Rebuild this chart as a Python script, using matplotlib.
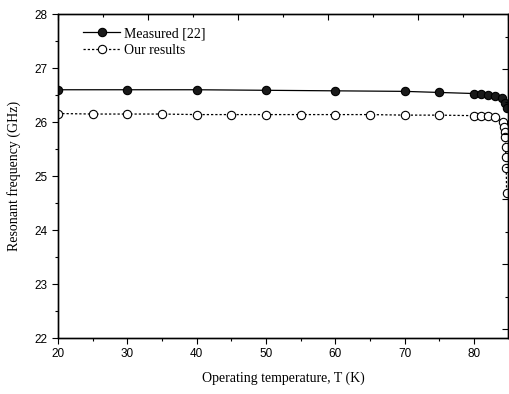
import numpy as np
import matplotlib.pyplot as plt
from matplotlib.ticker import MultipleLocator, NullFormatter

# Measured [22]
t_meas = [20, 30, 40, 50, 60, 70, 75, 80, 81, 82, 83, 84.0, 84.4, 84.7]
f_meas = [26.6, 26.6, 26.6, 26.59, 26.58, 26.57, 26.55, 26.53, 26.52, 26.50, 26.48, 26.44, 26.35, 26.26]

# Our results
t_ours = [20, 25, 30, 35, 40, 45, 50, 55, 60, 65, 70, 75, 80, 81, 82, 83,
          84.2, 84.3, 84.4, 84.5, 84.55, 84.6, 84.65, 84.7]
f_ours = [26.16, 26.15, 26.15, 26.15, 26.14, 26.14, 26.14, 26.14, 26.14, 26.14, 26.13, 26.13,
          26.12, 26.12, 26.11, 26.10, 26.0, 25.91, 25.81, 25.72, 25.54, 25.35, 25.15, 24.69]

serif = 'Liberation Serif'
sans = 'Liberation Sans'

fig = plt.figure(figsize=(5.09, 3.94), dpi=100)
ax = fig.add_axes([0.114, 0.142, 0.884, 0.822])

ax.plot(t_meas, f_meas, '-', color='black', lw=0.9, marker='o', ms=6,
        mfc='#1a1a1a', mec='black', mew=0.8, label='Measured [22]')
ax.plot(t_ours, f_ours, color='black', lw=0.9, dashes=(1.8, 1.6), marker='o', ms=6,
        mfc='white', mec='black', mew=0.8, label='Our results')

ax.set_xlim(20, 84.9)
ax.set_ylim(22, 28)
ax.xaxis.set_major_locator(MultipleLocator(10))
ax.xaxis.set_minor_locator(MultipleLocator(5))
ax.yaxis.set_major_locator(MultipleLocator(1))
ax.yaxis.set_minor_locator(MultipleLocator(0.5))
ax.tick_params(which='both', direction='out', top=False, right=False, width=0.8)
ax.tick_params(which='major', length=4, labelsize=8.5)
ax.tick_params(which='minor', length=2)
for lab in ax.get_xticklabels() + ax.get_yticklabels():
    lab.set_fontfamily(sans)

ax.set_xlabel('Operating temperature, T (K)', fontfamily=serif, fontsize=10, labelpad=8)
ax.set_ylabel('Resonant frequency (GHz)', fontfamily=serif, fontsize=10, labelpad=10)

# secondary axes carrying the top / right tick marks of the original
top = ax.twiny()
top.set_xlim(0, 5)
top.xaxis.set_major_locator(MultipleLocator(1))
top.xaxis.set_minor_locator(MultipleLocator(0.5))
top.xaxis.set_major_formatter(NullFormatter())
top.tick_params(which='both', direction='in', width=0.8)
top.tick_params(which='major', length=4)
top.tick_params(which='minor', length=2)

right = ax.twinx()
right.set_ylim(-0.14, 4.85)
right.yaxis.set_major_locator(MultipleLocator(1))
right.yaxis.set_minor_locator(MultipleLocator(0.5))
right.yaxis.set_major_formatter(NullFormatter())
right.tick_params(which='both', direction='in', width=0.8)
right.tick_params(which='major', length=4)
right.tick_params(which='minor', length=2)

for a in (ax, top, right):
    for s in a.spines.values():
        s.set_linewidth(0.9)

ax.legend(loc='upper left', frameon=False, prop={'family': serif, 'size': 10},
          handlelength=2.6, handletextpad=0.3, labelspacing=0.25,
          borderaxespad=0.3, bbox_to_anchor=(0.035, 0.99))

fig.savefig('out.png', dpi=100)
